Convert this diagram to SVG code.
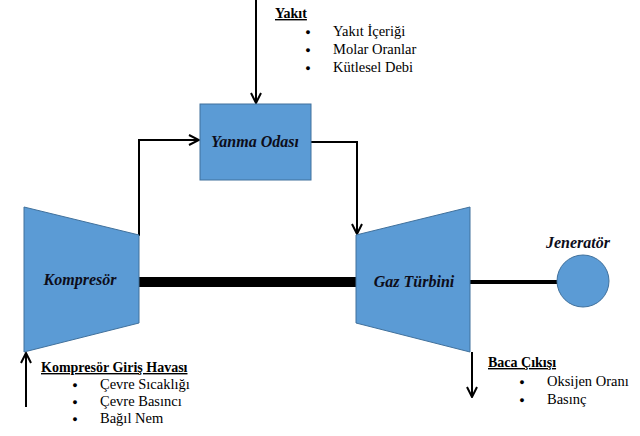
<svg xmlns="http://www.w3.org/2000/svg" width="640" height="436" viewBox="0 0 640 436">
<defs>
<style>
.sh{fill:#5b9bd5;stroke:#41719c;stroke-width:1}
text{font-family:'Liberation Serif','DejaVu Serif',serif}
.lbl{font-weight:bold;font-style:italic;font-size:16px;fill:#0d0d1a;text-anchor:middle}
.hd{font-weight:bold;font-size:14px;fill:#000;text-decoration:underline}
.it{font-size:14.5px;fill:#000}
.bl{font-size:9px;fill:#000;text-anchor:middle}
.ln{fill:none;stroke:#000;stroke-width:2}
</style>
<marker id="ah" viewBox="0 0 12 12" refX="11" refY="6" markerWidth="12" markerHeight="12" markerUnits="userSpaceOnUse" orient="auto">
<path d="M1,1 L11,6 L1,11" fill="none" stroke="#000" stroke-width="2"/>
</marker>
</defs>
<rect width="640" height="436" fill="#fff"/>
<g id="connectors">
<rect x="139" y="277" width="218" height="10" fill="#000"/>
<line x1="470" y1="282" x2="557" y2="282" stroke="#000" stroke-width="4"/>
<line class="ln" x1="256" y1="0" x2="256" y2="103" marker-end="url(#ah)"/>
<polyline class="ln" points="139,236 139,140 199,140" marker-end="url(#ah)"/>
<polyline class="ln" points="311,142 357,142 357,234" marker-end="url(#ah)"/>
<line class="ln" x1="26" y1="407" x2="26" y2="353" marker-end="url(#ah)"/>
<line class="ln" x1="472" y1="352" x2="472" y2="397" marker-end="url(#ah)"/>
</g>
<g id="kompresor">
<polygon class="sh" points="24,207 139,235 139,323 24,352"/>
<text class="lbl" x="80" y="285">Kompresör</text>
</g>
<g id="yanma-odasi">
<rect class="sh" x="200" y="104" width="111" height="76"/>
<text class="lbl" x="255" y="147">Yanma Odası</text>
</g>
<g id="gaz-turbini">
<polygon class="sh" points="356,235 470,207 470,352 356,323"/>
<text class="lbl" x="414" y="287">Gaz Türbini</text>
</g>
<g id="jenerator">
<circle class="sh" cx="583" cy="281" r="26"/>
<text class="lbl" x="578" y="248">Jeneratör</text>
</g>
<g id="yakit">
<text class="hd" x="275" y="18">Yakıt</text>
<text class="bl" x="308" y="35">●</text><text class="it" x="333" y="36">Yakıt İçeriği</text>
<text class="bl" x="308" y="53">●</text><text class="it" x="333" y="54">Molar Oranlar</text>
<text class="bl" x="308" y="71">●</text><text class="it" x="333" y="72">Kütlesel Debi</text>
</g>
<g id="giris-havasi">
<text class="hd" x="41" y="372">Kompresör Giriş Havası</text>
<text class="bl" x="75" y="388">●</text><text class="it" x="100" y="389">Çevre Sıcaklığı</text>
<text class="bl" x="75" y="405">●</text><text class="it" x="100" y="406">Çevre Basıncı</text>
<text class="bl" x="75" y="422">●</text><text class="it" x="100" y="423">Bağıl Nem</text>
</g>
<g id="baca-cikisi">
<text class="hd" x="488" y="367">Baca Çıkışı</text>
<text class="bl" x="522" y="385">●</text><text class="it" x="547" y="386">Oksijen Oranı</text>
<text class="bl" x="522" y="403">●</text><text class="it" x="547" y="404">Basınç</text>
</g>
</svg>
